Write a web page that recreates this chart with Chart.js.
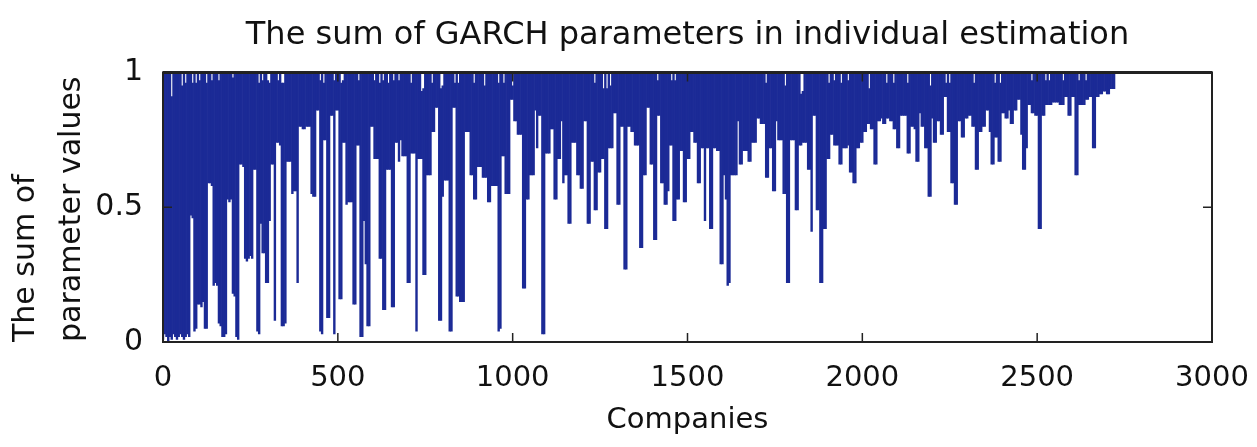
<!DOCTYPE html>
<html>
<head>
<meta charset="utf-8">
<title>The sum of GARCH parameters in individual estimation</title>
<script src="https://cdn.jsdelivr.net/npm/chart.js@4.4.1/dist/chart.umd.min.js"></script>
<style>
  html, body { margin: 0; padding: 0; background: #fff; }
  canvas { display: block; }
</style>
</head>
<body>
<canvas id="garchChart" width="1257" height="447"></canvas>
<script>
// companies are read in groups of 5; each group shows the lowest sum in it,
// the bars hang down from 1 (the stationarity limit) to that value
const COMPANY_STEP = 5;

const lowestSum = [
  0.01,0.03,0.02,0.00,0.02,0.01,0.03,0.02,0.01,0.02,0.03,0.02,0.01,0.02,0.03,0.02,0.47,0.46,0.04,0.05,
  0.14,0.14,0.13,0.15,0.05,0.05,0.59,0.59,0.58,0.21,0.22,0.21,0.07,0.06,0.02,0.02,0.03,0.53,0.52,0.53,
  0.18,0.17,0.02,0.01,0.66,0.66,0.65,0.31,0.30,0.31,0.32,0.31,0.64,0.64,0.04,0.03,0.44,0.33,0.33,0.22,
  0.22,0.45,0.66,0.66,0.08,0.74,0.74,0.73,0.06,0.06,0.07,0.67,0.67,0.67,0.55,0.56,0.56,0.22,0.80,0.80,
  0.79,0.79,0.80,0.80,0.80,0.55,0.54,0.54,0.86,0.86,0.04,0.03,0.75,0.75,0.09,0.09,0.84,0.84,0.03,0.86,
  0.86,0.16,0.16,0.74,0.74,0.51,0.52,0.52,0.52,0.14,0.14,0.73,0.73,0.02,0.02,0.45,0.29,0.06,0.06,0.80,
  0.80,0.68,0.68,0.68,0.31,0.31,0.12,0.12,0.64,0.64,0.64,0.13,0.13,0.74,0.74,0.67,0.75,0.69,0.69,0.69,
  0.22,0.22,0.70,0.70,0.70,0.04,0.68,0.68,0.68,0.25,0.25,0.62,0.62,0.62,0.78,0.78,0.87,0.87,0.08,0.08,
  0.54,0.60,0.60,0.60,0.04,0.04,0.87,0.87,0.17,0.17,0.15,0.15,0.15,0.78,0.78,0.78,0.62,0.62,0.53,0.53,
  0.65,0.65,0.65,0.61,0.61,0.61,0.52,0.52,0.58,0.58,0.58,0.58,0.04,0.05,0.69,0.69,0.55,0.55,0.55,0.90,
  0.90,0.82,0.82,0.77,0.77,0.77,0.20,0.20,0.53,0.53,0.62,0.62,0.62,0.86,0.72,0.84,0.84,0.03,0.03,0.70,
  0.70,0.70,0.79,0.79,0.53,0.53,0.68,0.68,0.82,0.59,0.62,0.62,0.44,0.44,0.74,0.74,0.74,0.62,0.62,0.57,
  0.57,0.82,0.82,0.44,0.44,0.67,0.67,0.49,0.49,0.63,0.63,0.68,0.68,0.42,0.42,0.72,0.72,0.72,0.85,0.85,
  0.51,0.51,0.80,0.80,0.27,0.27,0.80,0.80,0.78,0.78,0.73,0.73,0.73,0.35,0.35,0.62,0.62,0.87,0.87,0.66,
  0.66,0.38,0.38,0.84,0.84,0.59,0.59,0.51,0.51,0.56,0.73,0.73,0.45,0.45,0.53,0.53,0.71,0.71,0.52,0.52,
  0.68,0.68,0.78,0.78,0.74,0.74,0.59,0.59,0.72,0.72,0.45,0.72,0.72,0.42,0.42,0.72,0.72,0.71,0.71,0.29,
  0.29,0.62,0.53,0.21,0.22,0.62,0.62,0.62,0.62,0.82,0.66,0.66,0.71,0.71,0.71,0.67,0.67,0.74,0.74,0.74,
  0.83,0.83,0.81,0.81,0.81,0.61,0.61,0.72,0.72,0.56,0.56,0.82,0.75,0.75,0.75,0.55,0.55,0.22,0.22,0.75,
  0.75,0.75,0.49,0.49,0.73,0.73,0.74,0.74,0.74,0.64,0.64,0.41,0.84,0.84,0.49,0.49,0.22,0.22,0.42,0.42,
  0.68,0.68,0.77,0.77,0.73,0.73,0.73,0.66,0.66,0.72,0.72,0.72,0.73,0.63,0.63,0.59,0.59,0.72,0.72,0.74,
  0.74,0.78,0.78,0.81,0.81,0.79,0.79,0.66,0.66,0.82,0.82,0.83,0.81,0.81,0.83,0.83,0.82,0.82,0.79,0.79,
  0.72,0.72,0.84,0.84,0.84,0.84,0.70,0.70,0.80,0.80,0.79,0.67,0.67,0.85,0.80,0.80,0.72,0.72,0.54,0.54,
  0.83,0.74,0.74,0.82,0.82,0.77,0.77,0.91,0.91,0.78,0.78,0.59,0.59,0.51,0.51,0.82,0.82,0.76,0.76,0.83,
  0.83,0.84,0.84,0.80,0.80,0.64,0.64,0.78,0.78,0.80,0.80,0.86,0.86,0.78,0.66,0.66,0.76,0.76,0.67,0.67,
  0.85,0.85,0.83,0.83,0.86,0.81,0.81,0.86,0.86,0.90,0.90,0.77,0.64,0.64,0.72,0.88,0.88,0.85,0.85,0.84,
  0.84,0.42,0.42,0.84,0.84,0.88,0.88,0.88,0.88,0.89,0.89,0.89,0.89,0.88,0.88,0.88,0.91,0.91,0.84,0.84,
  0.91,0.91,0.62,0.62,0.88,0.88,0.88,0.88,0.90,0.90,0.91,0.91,0.72,0.72,0.91,0.91,0.92,0.92,0.93,0.93,
  0.92,0.92,0.94,0.94,0.94
];

// groups whose highest sum stays below 1 (white specks along the top edge)
const notchCompanies = [25,55,65,85,95,105,125,140,160,200,275,285,300,305,330,340,345,450,460,490,
  510,515,560,605,620,630,645,660,675,710,740,745,770,795,800,835,845,890,920,960,975,1000,1235,1260,
  1270,1280,1415,1455,1465,1725,1780,1825,1830,1905,1920,1940,1960,2020,2070,2090,2130,2195,2240,2250,
  2320,2380,2395,2485,2525,2535,2575,2620,2640];
const notchTops = [0.91,0.95,0.96,0.96,0.96,0.97,0.96,0.97,0.97,0.98,0.96,0.97,0.97,0.96,0.97,0.96,0.96,0.97,0.96,0.97,
  0.96,0.97,0.97,0.97,0.96,0.97,0.96,0.97,0.97,0.96,0.93,0.94,0.96,0.94,0.95,0.96,0.96,0.96,0.95,0.96,0.96,0.95,0.96,0.94,
  0.94,0.95,0.97,0.97,0.97,0.96,0.95,0.92,0.93,0.96,0.97,0.96,0.97,0.94,0.96,0.96,0.96,0.95,0.96,0.96,
  0.96,0.96,0.96,0.97,0.97,0.97,0.97,0.97,0.97];

const xTickValues = [0, 500, 1000, 1500, 2000, 2500, 3000];
const yTickValues = [0, 0.5, 1];

const companies = lowestSum.map((_, i) => i * COMPANY_STEP);

const tops = {};
notchCompanies.forEach((c, i) => { tops[c] = notchTops[i]; });

const barData = companies.map((c, i) => ({
  x: c,
  y: tops[c] !== undefined ? [lowestSum[i], tops[c]] : lowestSum[i]
}));

// box round the axes with the inward ticks, like the original figure
const axesBox = {
  id: 'axesBox',
  afterDatasetsDraw(chart) {
    const { ctx, chartArea: a, scales } = chart;
    ctx.save();
    ctx.strokeStyle = '#222';
    ctx.lineWidth = 2;
    ctx.strokeRect(a.left, a.top, a.right - a.left, a.bottom - a.top);
    ctx.lineWidth = 3;
    ctx.beginPath();
    ctx.moveTo(a.left, a.top);
    ctx.lineTo(a.right, a.top);
    ctx.stroke();
    ctx.lineWidth = 1.5;
    ctx.beginPath();
    scales.x.ticks.forEach(t => {
      const px = scales.x.getPixelForValue(t.value);
      ctx.moveTo(px, a.bottom); ctx.lineTo(px, a.bottom - 9);
      ctx.moveTo(px, a.top); ctx.lineTo(px, a.top + 9);
    });
    scales.y.ticks.forEach(t => {
      const py = scales.y.getPixelForValue(t.value);
      ctx.moveTo(a.left, py); ctx.lineTo(a.left + 9, py);
      ctx.moveTo(a.right, py); ctx.lineTo(a.right - 9, py);
    });
    ctx.stroke();
    ctx.restore();
  }
};

Chart.defaults.font.family = '"DejaVu Sans", sans-serif';
Chart.defaults.color = '#111';

new Chart(document.getElementById('garchChart'), {
  type: 'bar',
  data: {
    datasets: [{
      data: barData,
      base: 1,
      backgroundColor: '#1b2a96',
      borderWidth: 0,
      barPercentage: 1,
      categoryPercentage: 1
    }]
  },
  options: {
    responsive: false,
    animation: false,
    devicePixelRatio: 1,
    layout: { padding: { left: 0, right: 45, top: 0, bottom: 0 } },
    plugins: {
      legend: { display: false },
      tooltip: { enabled: false },
      title: {
        display: true,
        fullSize: false,
        text: 'The sum of GARCH parameters in individual estimation',
        color: '#111',
        font: { size: 32, weight: 'normal', lineHeight: 1.2 },
        padding: { top: 16, bottom: 18 }
      }
    },
    scales: {
      x: {
        type: 'linear',
        min: 0,
        max: 3000,
        offset: false,
        grid: { display: false },
        border: { display: false },
        afterBuildTicks: s => { s.ticks = xTickValues.map(v => ({ value: v })); },
        afterFit: s => { s.height = 105; s.paddingLeft = 0; s.paddingRight = 0; },
        ticks: { font: { size: 29 }, padding: 11, maxRotation: 0, autoSkip: false, callback: v => String(v) },
        title: {
          display: true,
          text: 'Companies',
          font: { size: 29, lineHeight: 1.2 },
          padding: { top: 0, bottom: 9 }
        }
      },
      y: {
        min: 0,
        max: 1,
        grid: { display: false },
        border: { display: false },
        afterBuildTicks: s => { s.ticks = yTickValues.map(v => ({ value: v })); },
        afterFit: s => { s.width = 163; },
        ticks: { font: { size: 30 }, padding: 12, callback: v => String(v) },
        title: {
          display: true,
          text: ['The sum of', 'parameter values'],
          align: 'start',
          font: { size: 30, lineHeight: 1.53 },
          padding: { top: 3 }
        }
      }
    }
  },
  plugins: [axesBox]
});
</script>
</body>
</html>
